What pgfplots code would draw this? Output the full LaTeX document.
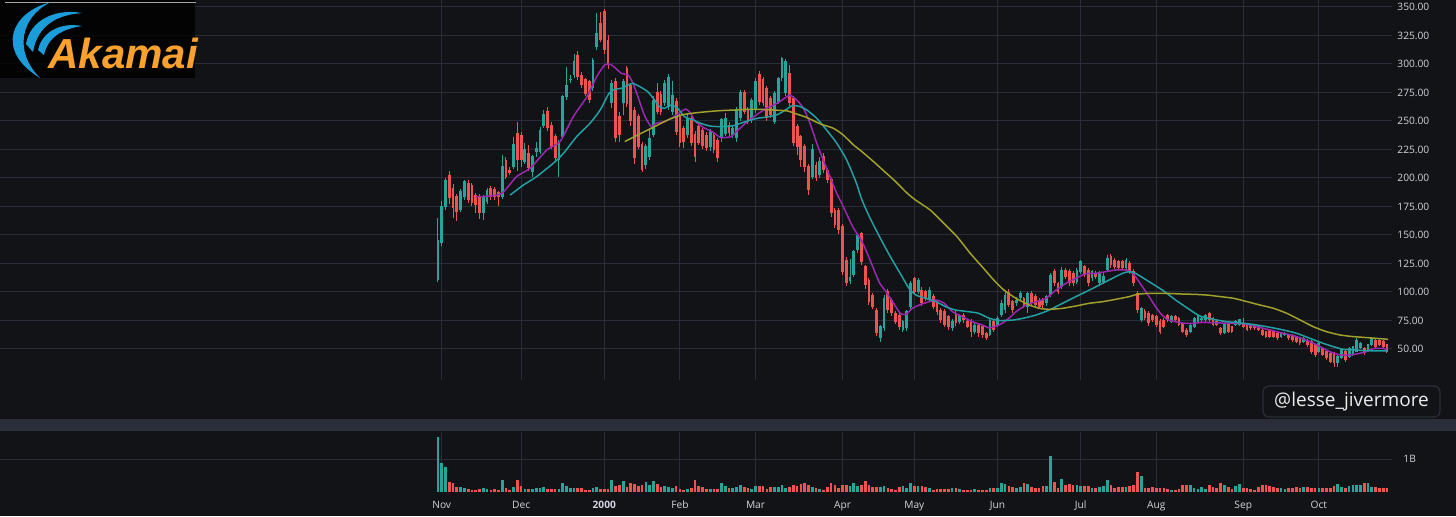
\documentclass[border=0pt]{standalone}
\usepackage{fontspec}
\setmainfont{Open Sans}
\newfontfamily\logofont{Liberation Sans}
\usepackage{pgfplots}
\pgfplotsset{compat=1.18}
\usepackage{pgfplotstable}
\definecolor{bg}{HTML}{121317}
\definecolor{gridc}{HTML}{2A2C37}
\definecolor{upc}{HTML}{26A69A}
\definecolor{dnc}{HTML}{EF5350}
\definecolor{maA}{HTML}{9C27B0}
\definecolor{maB}{HTML}{23A0A3}
\definecolor{maC}{HTML}{A0A02A}
\definecolor{txt}{HTML}{D1D4DC}
\definecolor{band}{HTML}{2A2E39}
\definecolor{logoblue}{HTML}{1B9DD9}
\definecolor{logoorange}{HTML}{F9A12E}
\newcommand\tickfont{\fontsize{5.1}{6}\selectfont}

\pgfplotstableread{
i o h l c v
0 110.5 165 109 145.6 1.67
1 142.6 180 140 174.8 0.90
2 174.8 200 172 198.2 0.78
3 202.6 206 177 182.1 0.31
4 191 195 165 173.4 0.29
5 183.6 186 162 170.4 0.15
6 172 190 170 188 0.17
7 183.6 198 181 196.8 0.12
8 195.3 198 178 180.7 0.11
9 193.8 196 175 177.8 0.08
10 185 187 169 176.3 0.07
11 183.6 186 164 169 0.09
12 169 185 163 183.6 0.12
13 179.2 191 177 189.5 0.10
14 190.9 193 181 183.6 0.08
15 190 192 181 183.6 0.10
16 187 189 175 183.6 0.07
17 183.6 220 182 209.9 0.36
18 215.8 218 199 201.2 0.13
19 207 210 203 204 0.07
20 209.9 236 208 229 0.17
21 239.2 249 206 215.8 0.36
22 237.7 240 210 215.8 0.20
23 214.3 231 212 224.6 0.10
24 221.6 229 206 208.5 0.11
25 205.5 220 201 218.7 0.09
26 223 232 218 226 0.13
27 223 245 221 242 0.13
28 246 260 244 256 0.15
29 258 262 241 243.6 0.09
30 246.5 249 225 227.5 0.10
31 236.3 239 214 217.2 0.10
32 215.8 233 201 230.4 0.09
33 236.3 273 234 271.3 0.27
34 271.3 297.6 268 281.6 0.20
35 285.9 290 283 286.5 0.12
36 290.3 309 288 302 0.13
37 307.9 311 286 288.9 0.13
38 290.3 293 279 281.6 0.13
39 286 288 272 274 0.08
40 284.5 286 265.5 268.4 0.08
41 278.7 305 276 303.5 0.13
42 315.2 344.4 312 326.9 0.15
43 335.7 346 319 321 0.09
44 345.9 348 309 312.3 0.11
45 321 325 296 300 0.11
46 266 286 261 283 0.37
47 284.5 288 232 235 0.20
48 253.8 258 232 237.7 0.21
49 265.5 287 255 284.5 0.34
50 296 298 262 265 0.15
51 281 283 246 250 0.27
52 259.6 262 212 217.2 0.25
53 253.8 256 225 227.5 0.18
54 229 232 205 207 0.22
55 211.4 230 208 227.5 0.31
56 218.7 242 216 234.8 0.23
57 237.7 272 236 268.4 0.34
58 275 283 256 258 0.24
59 273 276 255 258 0.15
60 265.5 286 263 283 0.18
61 262 291 260 288 0.17
62 258 285 255 272 0.14
63 267 270 238 240.6 0.18
64 255 258 227 230.4 0.10
65 243.6 246 226 231.9 0.08
66 237.7 256 235 252.3 0.11
67 252 254 228 230.4 0.12
68 238 241 214 218 0.38
69 245 248 229 231 0.18
70 242 244 225 228 0.16
71 237.7 240 224 226 0.11
72 227.5 243 224 241 0.10
73 237.7 240 222 224.6 0.10
74 233 235 214 217.2 0.10
75 234.8 253 232 251 0.28
76 239 257 237 252.3 0.19
77 246.5 249 237 239.2 0.12
78 237.7 246 235 243.6 0.12
79 234.8 262 232 259.6 0.15
80 252.3 277 250 274.9 0.21
81 274.9 277 256 258.2 0.15
82 259.6 262 247 249.4 0.12
83 250.9 270 248 268.4 0.11
84 259.6 288 257 284.5 0.20
85 290.4 294 264 267 0.18
86 286 289 263 265.5 0.18
87 278.6 281 250 252.3 0.11
88 269.9 272 253 255.2 0.15
89 249.4 276 247 274.3 0.15
90 267 289 265 287.4 0.16
91 287.4 306.5 285 305 0.22
92 274.3 304 272 302 0.13
93 291.8 299 263 265.5 0.17
94 269.9 272 228 230.4 0.21
95 245 247 220 227.5 0.18
96 236.3 238 210 215.8 0.26
97 227.5 230 205 210 0.28
98 210 212 185 189.5 0.22
99 201.2 230 199 224.6 0.15
100 211.4 214 197 199.7 0.12
101 202.6 218 200 214.3 0.10
102 218.7 222 204 207 0.08
103 207 209 196 198.3 0.15
104 198.3 200 166 169 0.29
105 171.9 174 156 158.8 0.23
106 171.9 174 151 154.4 0.12
107 157.3 160 115 117.8 0.21
108 128.1 131 105 107.6 0.23
109 110 129 107 113 0.18
110 114.9 137 113 135.4 0.29
111 136.8 152 134 150 0.19
112 151.5 153 124 126.6 0.21
113 122.2 124 103 106.1 0.35
114 110.5 112 89 91.5 0.23
115 97.4 99 85 87.1 0.15
116 84.2 86 61 63.7 0.15
117 59.3 71 56.4 69.6 0.15
118 68.1 97 66 94.4 0.18
119 100.3 103 82 84.2 0.13
120 93 95 79 81.3 0.10
121 81.3 83 72 74 0.07
122 79.8 82 67 69.6 0.15
123 66.7 75 65 74 0.18
124 68.1 84 66 82.7 0.14
125 87.1 110 85 107.6 0.27
126 112 113.4 98 100.3 0.19
127 100.3 112 98 110.5 0.18
128 101.7 104 88 90.1 0.19
129 100.3 102 92 94.4 0.15
130 93 104 91 101.7 0.12
131 95.9 98 85 87.1 0.08
132 90.1 92 80 82.7 0.10
133 84.2 86 73 75.4 0.10
134 82.7 85 69 71 0.10
135 78.4 80 67 69.6 0.10
136 68.1 76 66 74 0.12
137 81.3 83 70 72.5 0.12
138 74 81 72 79.8 0.10
139 79.8 82 73 75.4 0.08
140 74 76 68 69.6 0.08
141 74 76 60.8 65.2 0.08
142 65.2 73 63 71 0.09
143 71 73 60.8 63.7 0.06
144 69.6 71 60 62.3 0.06
145 63.7 65 58 59.3 0.06
146 62.3 77 61 75.4 0.12
147 74 76 65 66.7 0.12
148 71 79 69 76.9 0.12
149 80 93 78 90 0.29
150 84 102 82 97 0.26
151 100 103 87 89 0.19
152 91.5 93 82 84.2 0.15
153 90.1 96 88 93 0.12
154 94.4 101 92 98.8 0.15
155 94.4 96 86 88.6 0.29
156 87.1 100 81.3 98.8 0.26
157 98.8 101 88 90.1 0.15
158 95.9 98 86 88.6 0.14
159 93 95 85 87.1 0.13
160 93 95 86 88.6 0.19
161 90.1 97 88 95.9 0.19
162 97.4 117 96 114.9 1.11
163 117.8 120 105 107.6 0.31
164 107.6 109 98 100.3 0.12
165 104.7 122 103 119.3 0.41
166 119.3 121 111 113.4 0.21
167 117.8 120 105 107.6 0.26
168 116.4 118 105 107.6 0.23
169 109 121 107 119.3 0.21
170 117.8 128 116 126.6 0.20
171 122.2 124 113 114.9 0.20
172 119.3 121 105 107.6 0.19
173 112 119 110 117.8 0.13
174 116.4 118 111 113.4 0.13
175 107.6 118 106 116.4 0.15
176 109 117 107 113.4 0.18
177 119.3 132.4 118 129.5 0.36
178 131 133 121 123.7 0.23
179 128 130 120 122.2 0.13
180 126.6 128 119 120.8 0.15
181 126.6 128 119 120.8 0.15
182 120.8 130 119 128 0.15
183 125.1 127 116 117.8 0.19
184 117.8 120 105 107.6 0.21
185 98.8 101 82 84.2 0.61
186 75.4 87 74 85.7 0.49
187 82.7 85 75 76.9 0.12
188 81.3 83 70 72.5 0.14
189 79.8 81 74 75.4 0.15
190 78.4 80 69 71 0.12
191 74 76 63 65.2 0.14
192 75.4 77 68 69.6 0.12
193 79.8 81 74 75.4 0.10
194 74 80 73 78.4 0.07
195 78.4 80 74 75.4 0.08
196 76.9 78 70 71 0.10
197 72.5 74 64 65.2 0.21
198 66.7 68 60.8 62.3 0.21
199 65.2 72 64 71 0.21
200 69.6 78 68 76.9 0.12
201 74 80 73 78.4 0.10
202 75.4 78 74 76.9 0.15
203 75.4 81 74 79.8 0.10
204 81.3 82.5 74 75.5 0.21
205 77 78 70 71.1 0.15
206 74 75 70 71.1 0.12
207 68.2 69 62.5 63.8 0.29
208 63.8 72 63 71.1 0.21
209 71.1 72 64 65.2 0.15
210 69.6 70.5 64 65.2 0.10
211 71.1 75 70 74 0.19
212 71.1 76.5 70 75.5 0.26
213 72.6 77 68.5 69.6 0.12
214 71.1 72 65.5 66.7 0.12
215 71.1 72 67 68.2 0.10
216 71.1 72 67 68.2 0.08
217 69.6 70.5 65.5 66.7 0.15
218 66.7 67.5 61 62.3 0.21
219 65.2 66 59.5 60.9 0.21
220 66.7 67.5 59.5 60.9 0.18
221 65.2 66 59.5 60.9 0.15
222 63.8 64.5 58 59.4 0.12
223 60.9 65 60 63.8 0.12
224 62.3 65 61.5 63.8 0.10
225 62.3 63 58 59.4 0.12
226 62.3 63 56.5 57.9 0.12
227 60.9 61.5 55 56.5 0.15
228 59.4 60 53.5 55 0.12
229 56.5 60.5 55.5 59.4 0.16
230 57.9 59 52 53.6 0.15
231 56.5 57.5 46 47.7 0.13
232 53.6 54.5 43 44.8 0.12
233 47.7 56 46.5 55 0.12
234 50.6 51.5 43.5 44.8 0.12
235 47.7 48.5 40.5 41.9 0.12
236 46.2 47 37.5 38.9 0.14
237 46.2 47 34.5 37.5 0.19
238 37.5 44.5 34.5 43.3 0.26
239 41.9 50.5 41 49.2 0.16
240 47.7 49 39 40.4 0.12
241 43.3 51.5 42.5 50.6 0.19
242 44.8 53 44 52.1 0.23
243 47.7 59.4 47 57.9 0.23
244 50.6 56 50 55 0.21
245 50.6 51.5 45 46.2 0.29
246 47.7 54.5 47 53.6 0.27
247 53.6 60 53 59.4 0.15
248 57.9 59 51 52.1 0.15
249 57.9 58.5 52.5 53.6 0.14
250 56.5 57.5 51 52.1 0.12
251 53.6 54.5 46.5 47.7 0.12
}\ohlc

\pgfplotsset{
  tvaxis/.style={
    scale only axis, anchor=south west, width=696pt,
    xmin=-115.82, xmax=252.34,
    axis line style={draw=none}, tick style={draw=none}, major tick length=0pt,
    xtick={1,22,44,64,84,107,126,148,170,190,213,233},
    grid=major, major grid style={gridc, line width=0.5pt},
  },
  candle/.style={only marks, mark=*, mark size=0pt,
    mark options={draw=none, fill=none}, forget plot},
}

\begin{document}
\begin{tikzpicture}
\useasboundingbox (0pt,0pt) rectangle (728pt,258pt);
\fill[bg] (0pt,0pt) rectangle (728pt,258pt);
\fill[band] (0pt,42.5pt) rectangle (728pt,48.5pt);

\begin{axis}[tvaxis, at={(0pt,68pt)}, height=190pt,
  ymin=22.81, ymax=356.14,
  xticklabels={},
  ytick={50,75,...,350},
  yticklabel pos=right,
  yticklabel style={anchor=west, inner sep=0pt, xshift=2.5pt, font=\tickfont, text=txt,
    /pgf/number format/fixed, /pgf/number format/fixed zerofill,
    /pgf/number format/precision=2, /pgf/number format/assume math mode=true},
]
% up candles: wicks and bodies
\addplot[candle, error bars/.cd, y dir=plus, y explicit, error mark=none,
  error bar style={line width=0.5pt, color=upc}]
  table[x=i, y expr={\thisrow{c}>=\thisrow{o} ? \thisrow{l} : -900},
        y error plus expr={\thisrow{h}-\thisrow{l}}]{\ohlc};
\addplot[candle, error bars/.cd, y dir=plus, y explicit, error mark=none,
  error bar style={line width=1.4pt, color=upc}]
  table[x=i, y expr={\thisrow{c}>=\thisrow{o} ? \thisrow{o} : -900},
        y error plus expr={\thisrow{c}-\thisrow{o}+0.4}]{\ohlc};
% down candles
\addplot[candle, error bars/.cd, y dir=plus, y explicit, error mark=none,
  error bar style={line width=0.5pt, color=dnc}]
  table[x=i, y expr={\thisrow{c}<\thisrow{o} ? \thisrow{l} : -900},
        y error plus expr={\thisrow{h}-\thisrow{l}}]{\ohlc};
\addplot[candle, error bars/.cd, y dir=plus, y explicit, error mark=none,
  error bar style={line width=1.4pt, color=dnc}]
  table[x=i, y expr={\thisrow{c}<\thisrow{o} ? \thisrow{c} : -900},
        y error plus expr={\thisrow{o}-\thisrow{c}+0.4}]{\ohlc};

% 10-day average (purple)
\addplot[maA, line width=0.75pt, smooth, tension=0.4] coordinates {
(10,183.5) (13,184) (16.9,186.5) (20.8,201.2) (24.4,208.5) (28.8,224.6) (32.3,231.9) (35.8,253.8) (39.4,271.3) (42,288.9) (44.2,299.5) (46,299.1) (48.5,291.8) (50.3,290.4) (51.6,283) (52.9,271.3) (54.6,255.2) (56.4,245) (57.7,248) (59.9,249.4) (62.5,253.8) (64.3,258.2) (65.6,260.5) (66.8,257) (68,250) (70.4,244) (72.6,240.6) (74.8,235.5) (77.5,236.3) (79.2,241.5) (81.8,249.4) (84.5,256) (87.1,261.5) (89.7,265.5) (92.3,271.3) (93.2,272.8) (95,268) (96.7,261) (98.4,248) (100.2,230.4) (101.9,215.8) (103.7,201.2) (105.5,186.5) (107.2,175) (109.7,157.3) (112.4,142.7) (115,122.2) (116.8,108) (118.5,100.3) (121.1,87.1) (122.4,81) (123.8,80.5) (125.5,85.7) (127.3,88.6) (129.9,91.5) (131.7,93) (133.9,90.1) (136.1,82.7) (138.7,78.4) (141.3,74) (144,71) (145.8,68.5) (147.6,70) (149.2,72.5) (151,76.9) (152.9,82.7) (155.6,88.6) (158.2,91.5) (160.8,94.4) (163.5,101.7) (166.1,107.6) (168.7,112) (171.4,116) (174,116.4) (176.6,117.8) (179.3,119.3) (181.9,119.3) (183.2,117.8) (184.5,113.4) (186.3,104.7) (188.1,95.9) (189.8,87.1) (191.5,79.8) (193.3,75.4) (195.1,73.9) (197.7,72.5) (199.5,72.5) (202,73.3) (205.1,73.1) (208.6,72.6) (213,72.3) (216.5,69.6) (220,66.7) (223.6,63.8) (227.1,60.9) (230.6,56.5) (233.3,52.1) (235.9,47.7) (238.6,44.8) (241.2,44.8) (243.8,46.2) (245.6,47.7) (247.4,50.3) (249.6,50.6) (251,49.7)
};
% 20-day average (teal)
\addplot[maB, line width=0.75pt, smooth, tension=0.4] coordinates {
(19.1,185) (22.6,193.8) (26.1,201.2) (30.5,212.9) (33.2,221.6) (36.7,236.3) (40.2,247.9) (42.9,259.6) (45.3,274.5) (46.8,277.8) (48.5,278.6) (50.3,281.6) (51.6,283) (53.4,280.1) (55.5,275.7) (57.3,268.4) (58.6,262.6) (59.9,261.1) (61.7,264) (63.4,261.1) (65.2,253.8) (67,251.5) (69.5,248) (72.1,245.5) (75.6,245) (78.3,246) (80.9,249) (84.4,252.3) (87,253.5) (89.7,255.5) (91.9,259.6) (93.8,263.5) (95.8,262.6) (97.6,259.6) (100.2,252.3) (102.8,242.1) (105.5,230.4) (108.1,215.8) (110.7,195.3) (112,182) (114.1,166.1) (116.8,148.5) (119.4,132.5) (122,117.8) (124.6,103.2) (126.4,97.4) (129,94.4) (131.7,91.5) (134.3,87.1) (136.9,84.2) (140.4,82.7) (143,81.3) (145.8,77) (148.5,75) (152.1,75.4) (154.7,76.9) (158.2,79.8) (161.7,84.2) (165.2,90.1) (168.7,95.9) (172.3,101.7) (175.8,107.6) (178.4,112) (181.1,116.4) (182.8,117.8) (184.5,116.4) (188.1,109) (191.6,101.7) (195.1,93) (198.6,85) (201.5,79) (205.1,76) (208.6,74) (213,72.6) (216.5,71.1) (220,69.1) (223.6,66.7) (227.1,63.8) (230.6,59.4) (234.1,55) (236.8,52.1) (239.4,49.7) (242,49.2) (245.6,48.6) (248.2,48.3) (251,48.3)
};
% 50-day average (olive)
\addplot[maC, line width=0.75pt, smooth, tension=0.4] coordinates {
(49.4,231.9) (52,236.3) (54.6,240.6) (57.3,245) (60.8,250.9) (64.3,255.2) (67.8,257) (71.3,258.2) (74.8,259.1) (78.3,259.6) (81.8,260.2) (85.3,260.2) (88.8,259.6) (92.4,258.8) (95,256) (97.6,253) (101.1,247.5) (104.6,243.6) (107.2,237.7) (109.9,229) (111.6,224.6) (115,215) (118,206) (121,197) (124,187) (126.3,180.7) (130.2,171.9) (133.8,160.2) (137.3,148.5) (140.8,133.9) (144.3,120.8) (147,110.5) (149.6,102) (152.9,94.4) (156.4,88.6) (159.1,85.7) (161.7,84.8) (165.2,85.7) (168.7,87.7) (172.3,90.1) (175.8,91.5) (179.3,93.6) (182.8,95.9) (185,98) (188.1,98.8) (192.5,98.8) (196.9,98.2) (200.4,97.9) (203.8,97.2) (206.8,96) (210.4,94.5) (213.9,91.6) (217.4,88.6) (221,85.7) (224.5,81.3) (228,75.5) (231.5,69.6) (235,65.2) (238.6,62.3) (242,60.9) (245.6,60) (249.1,59.1) (251.3,58.5)
};
\end{axis}

\begin{axis}[tvaxis, at={(0pt,11.85pt)}, height=30.15pt,
  ymin=0, ymax=1.827,
  xticklabels={Nov,Dec,\textbf{2000},Feb,Mar,Apr,May,Jun,Jul,Aug,Sep,Oct},
  xticklabel style={anchor=base, inner sep=0pt, yshift=-7.9pt, font=\tickfont, text=txt},
  ytick={1}, yticklabels={1B}, yticklabel pos=right,
  yticklabel style={anchor=west, inner sep=0pt, xshift=5.5pt, font=\tickfont, text=txt},
]
\addplot[candle, error bars/.cd, y dir=plus, y explicit, error mark=none,
  error bar style={line width=1.35pt, color=upc}]
  table[x=i, y expr={\thisrow{c}>=\thisrow{o} ? 0 : -10},
        y error plus expr={\thisrow{v}}]{\ohlc};
\addplot[candle, error bars/.cd, y dir=plus, y explicit, error mark=none,
  error bar style={line width=1.35pt, color=dnc}]
  table[x=i, y expr={\thisrow{c}<\thisrow{o} ? 0 : -10},
        y error plus expr={\thisrow{v}}]{\ohlc};
\end{axis}

% logo
\fill[black, opacity=0.8] (0pt,219pt) rectangle (97.5pt,258pt);
\draw[gray!70, line width=0.5pt] (2.5pt,256.7pt) -- (98pt,256.7pt);
\fill[logoblue] (25pt,256.8pt) .. controls (6pt,252pt) and (-3pt,233pt) .. (20pt,219pt)
  .. controls (7pt,232pt) and (10pt,249pt) .. (25pt,256.8pt) -- cycle;
\fill[logoblue] (13pt,236pt) .. controls (15pt,248pt) and (28pt,254pt) .. (41pt,251.5pt)
  .. controls (29pt,250.5pt) and (19pt,246pt) .. (16.5pt,232pt) -- cycle;
\fill[logoblue] (19pt,233pt) .. controls (21pt,242pt) and (30pt,247pt) .. (41pt,245pt)
  .. controls (31pt,243.5pt) and (24pt,239.5pt) .. (22pt,230.5pt) -- cycle;
\node[anchor=base west, inner sep=0pt, text=logoorange] at (24pt,224pt)
  {\logofont\fontsize{21}{21}\selectfont\bfseries\itshape Akamai};

% watermark
\draw[rounded corners=3pt, draw=band, fill=bg, line width=0.6pt] (631.5pt,49.5pt) rectangle (720pt,65pt);
\node[text=white!92!black, inner sep=0pt] at (675.75pt,57.2pt) {\fontsize{9.5}{11}\selectfont @lesse\_jivermore};
\end{tikzpicture}
\end{document}
